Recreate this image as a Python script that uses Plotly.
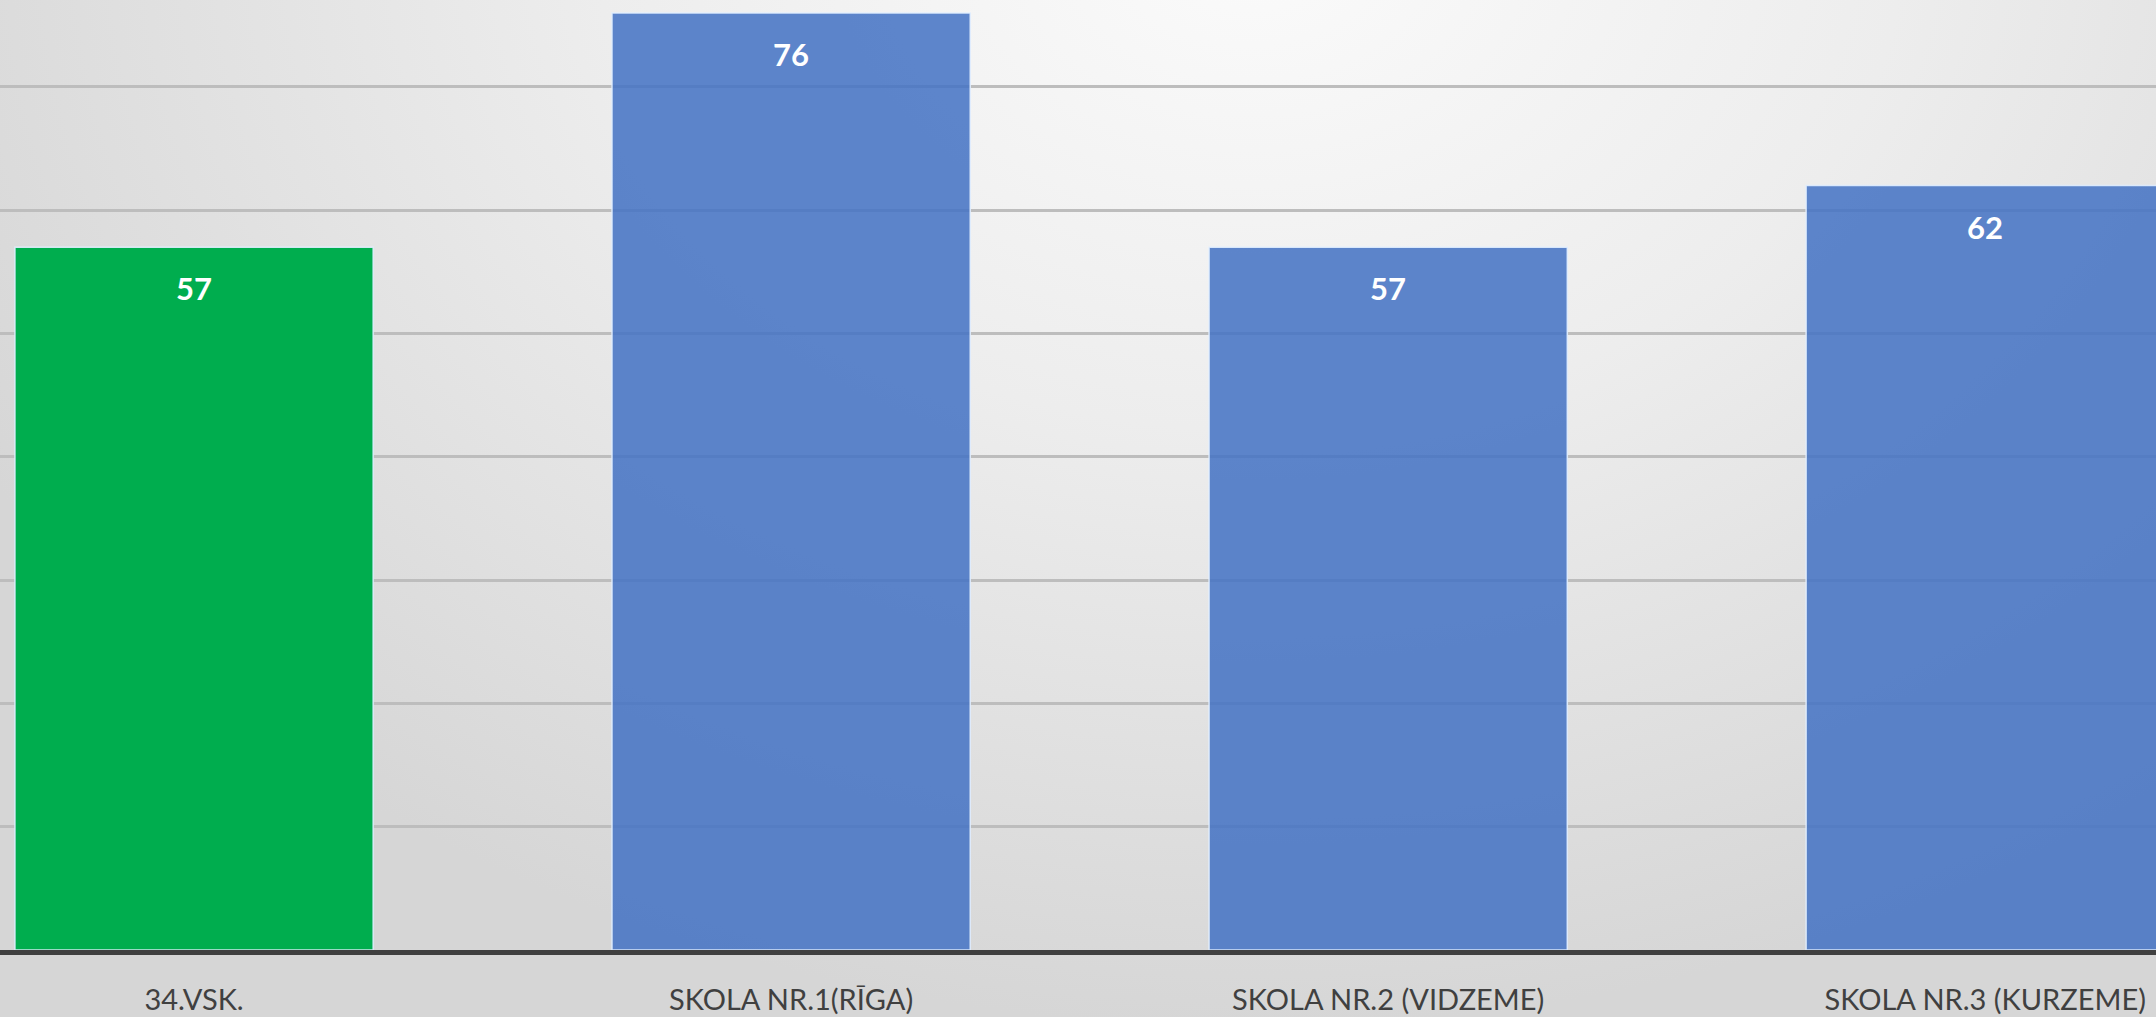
import base64
import plotly.graph_objects as go

categories = ["34.VSK.", "SKOLA NR.1(RĪGA)", "SKOLA NR.2 (VIDZEME)", "SKOLA NR.3 (KURZEME)"]
values = [57, 76, 57, 62]
bar_colors = ["#00AD4E", "rgba(68,114,196,0.86)", "rgba(68,114,196,0.86)", "rgba(68,114,196,0.86)"]
label_text = ["57", "76", "57", "62"]

W, H = 2156, 1017
svg = f'''<svg xmlns="http://www.w3.org/2000/svg" width="{W}" height="{H}" viewBox="0 0 {W} {H}">
<defs><radialGradient id="g" cx="1250" cy="-60" r="1450" gradientUnits="userSpaceOnUse" gradientTransform="translate(1250,-60) scale(1,0.75) translate(-1250,60)">
<stop offset="0" stop-color="#fbfbfb"/><stop offset="0.45" stop-color="#ededed"/><stop offset="1" stop-color="#d6d6d6"/></radialGradient></defs>
<rect width="{W}" height="{H}" fill="url(#g)"/></svg>'''
src = "data:image/svg+xml;base64," + base64.b64encode(svg.encode()).decode()

fig = go.Figure()
fig.add_trace(go.Bar(
    x=categories, y=values,
    marker=dict(color=bar_colors, line=dict(color="rgba(225,238,255,0.9)", width=1.5)),
    hoverinfo="skip",
))

for c, v, t in zip(categories, values, label_text):
    fig.add_annotation(x=c, y=v, text=f"<b>{t}</b>", showarrow=False,
                       yanchor="middle", yshift=-41,
                       font=dict(family="Lato, Carlito, sans-serif", size=31, color="white"))

bottom = 67
fig.update_layout(
    width=W, height=H,
    margin=dict(l=0, r=0, t=0, b=bottom, pad=0),
    paper_bgcolor="#d9d9d9",
    plot_bgcolor="rgba(0,0,0,0)",
    bargap=0.4,
    showlegend=False,
    images=[dict(source=src, xref="paper", yref="paper", x=0, y=1,
                 sizex=1, sizey=1 + bottom / (H - bottom), sizing="stretch",
                 xanchor="left", yanchor="top", layer="below")],
    xaxis=dict(range=[-0.325, 3.286], showgrid=False, showline=True, linecolor="#404040",
               linewidth=5, ticks="", tickfont=dict(family="Lato, Carlito, sans-serif", size=29, color="#404040"),
               ticklabelstandoff=20, fixedrange=True),
    yaxis=dict(range=[0, 77.05], dtick=10, showgrid=True, gridcolor="#bdbdbd", gridwidth=3,
               showticklabels=False, zeroline=False, showline=False, fixedrange=True),
)

fig.write_html("out.html", config={"displayModeBar": False},
               post_script="document.body.style.margin='0';document.body.style.overflow='hidden';")
